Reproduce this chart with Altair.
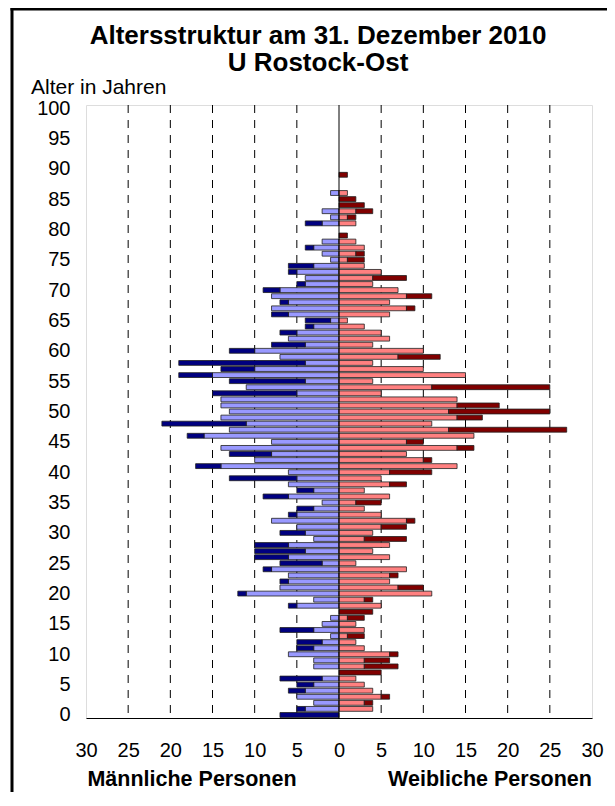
import altair as alt
import pandas as pd

# ---- data (counts per single year of age 0..100) ----
ages = list(range(101))
male_light = [0, 4, 3, 5, 4, 3, 2, 0, 3, 3,
              6, 3, 2, 1, 3, 2, 1, 0, 5, 3,
              11, 7, 6, 6, 8, 2, 6, 4, 6, 3,
              4, 5, 8, 5, 3, 2, 6, 3, 6, 5,
              6, 14, 10, 8, 14, 8, 16, 13, 11, 14,
              13, 14, 14, 5, 11, 4, 15, 10, 4, 7,
              10, 4, 6, 5, 3, 1, 6, 8, 6, 8,
              7, 4, 4, 5, 3, 1, 2, 3, 2, 0,
              0, 2, 1, 2, 0, 0, 1, 0, 0, 0,
              0, 0, 0, 0, 0, 0, 0, 0, 0, 0, 0]
male_dark = [7, 1, 0, 0, 2, 2, 5, 0, 0, 0,
             0, 2, 3, 0, 4, 0, 0, 0, 1, 0,
             1, 0, 1, 0, 1, 5, 4, 6, 4, 0,
             3, 0, 0, 1, 2, 0, 3, 2, 0, 8,
             0, 3, 0, 5, 0, 0, 2, 0, 10, 0,
             0, 0, 0, 10, 0, 9, 4, 4, 15, 0,
             3, 4, 0, 2, 1, 3, 2, 0, 1, 0,
             2, 1, 0, 1, 3, 0, 0, 1, 0, 0,
             0, 2, 0, 0, 0, 0, 0, 0, 0, 0,
             0, 0, 0, 0, 0, 0, 0, 0, 0, 0, 0]
female_light = [0, 4, 3, 5, 4, 3, 2, 0, 3, 3,
                6, 3, 2, 1, 3, 2, 1, 0, 5, 3,
                11, 7, 6, 6, 8, 2, 6, 4, 6, 3,
                4, 5, 8, 5, 3, 2, 6, 3, 6, 5,
                6, 14, 10, 8, 14, 8, 16, 13, 11, 14,
                13, 14, 14, 5, 11, 4, 15, 10, 4, 7,
                10, 4, 6, 5, 3, 1, 6, 8, 6, 8,
                7, 4, 4, 5, 3, 1, 2, 3, 2, 0,
                0, 2, 1, 2, 0, 0, 1, 0, 0, 0,
                0, 0, 0, 0, 0, 0, 0, 0, 0, 0, 0]
female_dark = [0, 0, 1, 1, 0, 0, 0, 5, 4, 3,
               1, 0, 0, 2, 0, 0, 2, 4, 0, 1,
               0, 3, 0, 1, 0, 0, 0, 0, 0, 5,
               0, 3, 1, 0, 0, 3, 0, 0, 2, 0,
               5, 0, 1, 0, 2, 2, 0, 14, 0, 3,
               12, 5, 0, 0, 14, 0, 0, 0, 0, 5,
               0, 0, 0, 0, 0, 0, 0, 1, 0, 3,
               0, 0, 4, 0, 0, 2, 1, 0, 0, 1,
               0, 0, 1, 2, 3, 2, 0, 0, 0, 1,
               0, 0, 0, 0, 0, 0, 0, 0, 0, 0, 0]

segments = ["Männlich A", "Männlich B", "Weiblich A", "Weiblich B"]
seg_colors = ["#9999FF", "#000080", "#FF8080", "#800000"]
x_ticks = list(range(-30, 31, 5))
grid_vals = [v for v in x_ticks if v not in (-30, 0, 30)]
y_ticks = list(range(0, 101, 5))

rows = []
for a, ml, md, fl, fd in zip(ages, male_light, male_dark, female_light, female_dark):
    if ml:
        rows.append({"age": a, "start": 0, "end": -ml, "seg": segments[0]})
    if md:
        rows.append({"age": a, "start": -ml, "end": -(ml + md), "seg": segments[1]})
    if fl:
        rows.append({"age": a, "start": 0, "end": fl, "seg": segments[2]})
    if fd:
        rows.append({"age": a, "start": fl, "end": fl + fd, "seg": segments[3]})
df = pd.DataFrame(rows)

FONT = "Liberation Sans"
W, H = 506, 613
PAD = {"left": 78, "top": 97, "right": 15, "bottom": 74}
xscale = alt.Scale(domain=[-30, 30], nice=False, zero=False)
yscale = alt.Scale(domain=[-0.5, 100.5], nice=False, zero=False)

one = pd.DataFrame({"d": [0]})
frame_top = alt.Chart(one).mark_rule(color="black", strokeWidth=3).encode(
    x=alt.value(-75.5), x2=alt.value(W + PAD["right"]), y=alt.value(-96)
)
frame_left = alt.Chart(one).mark_rule(color="black", strokeWidth=3).encode(
    x=alt.value(-74), y=alt.value(-97.5), y2=alt.value(H + PAD["bottom"])
)

grid = alt.Chart(pd.DataFrame({"g": grid_vals})).mark_rule(
    color="black", strokeWidth=1, strokeDash=[8, 7]
).encode(x=alt.X("g:Q", scale=xscale))

bars = alt.Chart(df).transform_calculate(
    y0="datum.age - 0.4", y1="datum.age + 0.4"
).mark_bar(stroke="#202020", strokeWidth=0.8).encode(
    x=alt.X("start:Q", scale=xscale,
            axis=alt.Axis(values=x_ticks, labelExpr="abs(datum.value)", ticks=False,
                          domain=True, domainColor="black", domainWidth=1, grid=False,
                          labelFontSize=20, labelFont=FONT, labelColor="black",
                          labelPadding=22, labelFlush=False, title=None)),
    x2="end:Q",
    y=alt.Y("y0:Q", scale=yscale,
            axis=alt.Axis(values=y_ticks, ticks=False, domain=False, grid=False,
                          labelFontSize=20, labelFont=FONT, labelColor="black",
                          labelPadding=16, labelFlush=False, title=None)),
    y2="y1:Q",
    color=alt.Color("seg:N", scale=alt.Scale(domain=segments, range=seg_colors), legend=None),
)

zero = alt.Chart(pd.DataFrame({"z": [0]})).mark_rule(color="black", strokeWidth=1).encode(
    x=alt.X("z:Q", scale=xscale)
)

def label(text, x, y, size, bold, align="center"):
    return alt.Chart(pd.DataFrame({"t": [text]})).mark_text(
        font=FONT, fontSize=size, fontWeight="bold" if bold else "normal",
        align=align, baseline="middle", color="black"
    ).encode(text="t:N", x=alt.value(x), y=alt.value(y))

texts = [
    label("Altersstruktur am 31. Dezember 2010", 232, -69, 26, True),
    label("U  Rostock-Ost", 232, -42, 26, True),
    label("Alter in Jahren", -55, -17.5, 21, False, "left"),
    label("Männliche Personen", 106, 675, 21.5, True),
    label("Weibliche Personen", 404, 675, 21.5, True),
]

chart = alt.layer(frame_top, frame_left, grid, bars, zero, *texts).properties(
    width=W, height=H,
    autosize=alt.AutoSizeParams(type="none"),
    padding=PAD,
).configure_view(stroke="#808080", strokeWidth=1).configure(font=FONT)

chart.save("out.html", embed_options={"renderer": "svg", "actions": False})
